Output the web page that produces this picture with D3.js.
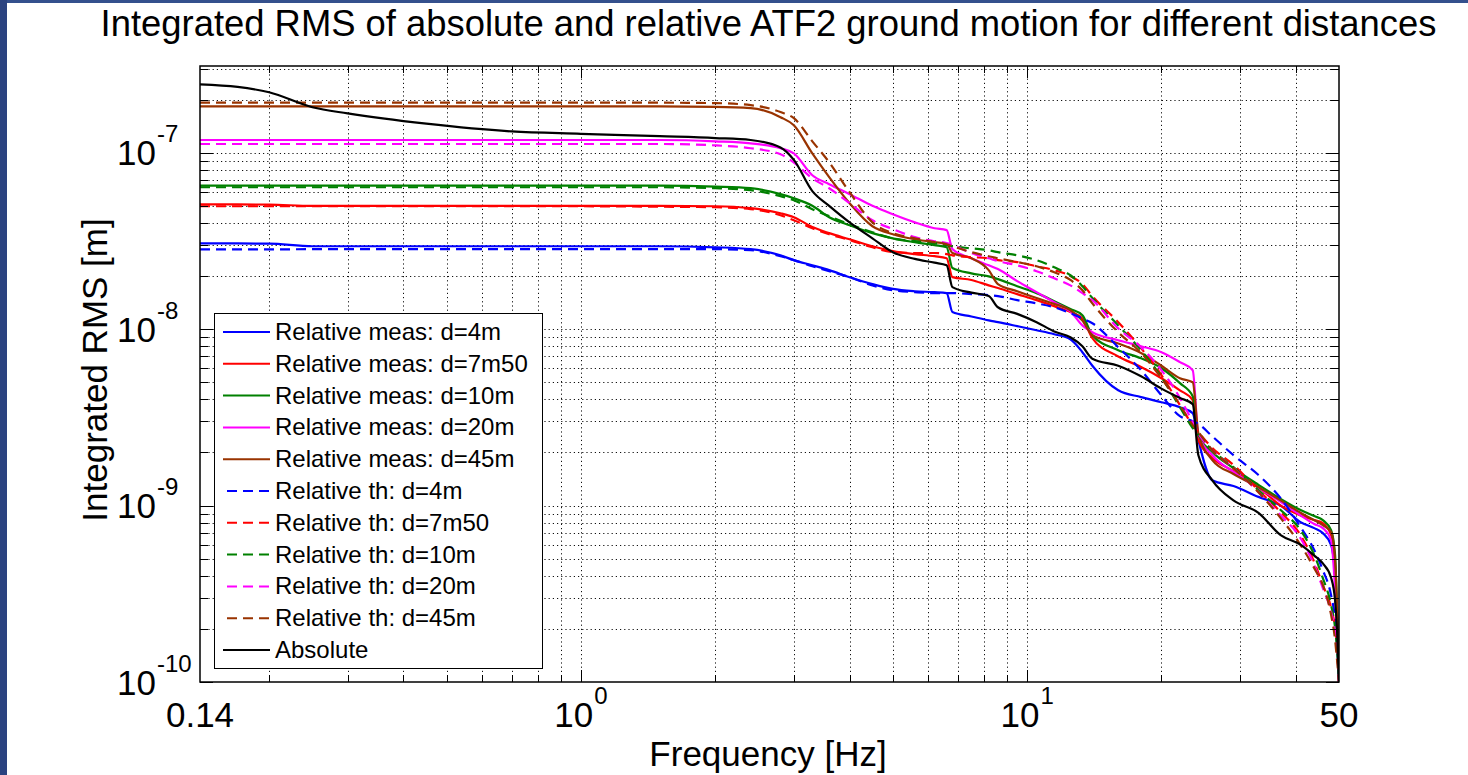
<!DOCTYPE html>
<html>
<head>
<meta charset="utf-8">
<script src="https://cdn.jsdelivr.net/npm/d3@7"></script>
<style>
  body { margin: 0; background: #fff; }
  svg { display: block; font-family: "Liberation Sans", Arial, sans-serif; }
</style>
</head>
<body>
<svg id="chart" width="1468" height="775"></svg>
<script>
// frequency grid [Hz] shared by every curve
const freqs = [0.14, 0.17, 0.2, 0.25, 0.3, 0.45, 0.7, 1.0, 1.5, 2.0, 2.4, 2.8,
  3.0, 3.3, 3.6, 4.0, 4.5, 5.0, 5.6, 6.2, 6.6, 6.8,
  7.5, 8.2, 8.6, 9.5, 10.5, 11.5, 12.5, 13.3, 14, 16,
  18, 20, 22, 23.5, 24.2, 26, 29, 33, 37, 41,
  44, 46, 48, 49, 49.5, 50]

// integrated RMS [m], measured relative motion
const measD4 = [3.06e-8, 3.06e-8, 3.05e-8, 2.95e-8, 2.95e-8, 2.95e-8, 2.95e-8, 2.95e-8, 2.95e-8, 2.91e-8, 2.84e-8, 2.62e-8,
  2.46e-8, 2.30e-8, 2.16e-8, 1.97e-8, 1.80e-8, 1.69e-8, 1.64e-8, 1.62e-8, 1.60e-8, 1.25e-8,
  1.18e-8, 1.12e-8, 1.095e-8, 1.04e-8, 9.86e-9, 9.36e-9, 8.76e-9, 7.4e-9, 6.2e-9, 4.5e-9,
  4.12e-9, 3.85e-9, 3.61e-9, 3.34e-9, 2.35e-9, 1.39e-9, 1.29e-9, 1.12e-9, 1.0e-9, 8.06e-10,
  7.45e-10, 6.98e-10, 5.97e-10, 4.04e-10, 2.25e-10, 1.0e-10]
const measD7 = [5.09e-8, 5.09e-8, 5.08e-8, 4.99e-8, 4.99e-8, 4.99e-8, 4.99e-8, 4.99e-8, 4.99e-8, 4.97e-8, 4.85e-8, 4.54e-8,
  4.31e-8, 3.79e-8, 3.5e-8, 3.23e-8, 2.95e-8, 2.77e-8, 2.66e-8, 2.59e-8, 2.52e-8, 1.97e-8,
  1.9e-8, 1.77e-8, 1.71e-8, 1.58e-8, 1.46e-8, 1.35e-8, 1.25e-8, 1.15e-8, 8.9e-9, 7.0e-9,
  6.1e-9, 5.27e-9, 4.5e-9, 3.96e-9, 2.35e-9, 1.86e-9, 1.57e-9, 1.27e-9, 1.0e-9, 8.8e-10,
  8.27e-10, 7.96e-10, 6.8e-10, 4.48e-10, 2.25e-10, 1.0e-10]
const measD10 = [6.5e-8, 6.5e-8, 6.5e-8, 6.5e-8, 6.5e-8, 6.5e-8, 6.5e-8, 6.5e-8, 6.5e-8, 6.42e-8, 6.29e-8, 5.82e-8,
  5.52e-8, 5.0e-8, 4.31e-8, 3.88e-8, 3.5e-8, 3.27e-8, 3.11e-8, 2.99e-8, 2.91e-8, 2.22e-8,
  2.07e-8, 1.99e-8, 1.92e-8, 1.75e-8, 1.6e-8, 1.44e-8, 1.3e-8, 1.2e-8, 9.24e-9, 7.6e-9,
  6.83e-9, 6.0e-9, 4.94e-9, 4.17e-9, 2.51e-9, 2.01e-9, 1.63e-9, 1.31e-9, 1.09e-9, 9.43e-10,
  8.72e-10, 8.27e-10, 7.25e-10, 5.25e-10, 2.56e-10, 1.0e-10]
const measD20 = [1.18e-7, 1.18e-7, 1.18e-7, 1.18e-7, 1.18e-7, 1.18e-7, 1.18e-7, 1.18e-7, 1.18e-7, 1.16e-7, 1.13e-7, 1.06e-7,
  9.9e-8, 7.45e-8, 6.63e-8, 5.82e-8, 5.0e-8, 4.48e-8, 4.03e-8, 3.73e-8, 3.64e-8, 2.84e-8,
  2.52e-8, 2.3e-8, 2.19e-8, 1.87e-8, 1.62e-8, 1.42e-8, 1.26e-8, 1.05e-8, 9.6e-9, 8.65e-9,
  8.0e-9, 7.4e-9, 6.5e-9, 5.85e-9, 2.51e-9, 1.93e-9, 1.55e-9, 1.26e-9, 1.05e-9, 8.8e-10,
  7.86e-10, 7.45e-10, 6.37e-10, 3.32e-10, 1.97e-10, 1.0e-10]
const measD45 = [1.83e-7, 1.83e-7, 1.83e-7, 1.83e-7, 1.83e-7, 1.83e-7, 1.83e-7, 1.83e-7, 1.83e-7, 1.82e-7, 1.79e-7, 1.59e-7,
  1.43e-7, 9.9e-8, 7.27e-8, 5.17e-8, 3.83e-8, 3.45e-8, 3.23e-8, 3.11e-8, 3.05e-8, 2.7e-8,
  2.52e-8, 2.16e-8, 1.8e-8, 1.64e-8, 1.5e-8, 1.39e-8, 1.28e-8, 1.12e-8, 9.24e-9, 8.3e-9,
  7.33e-9, 6.2e-9, 5.27e-9, 5.0e-9, 2.57e-9, 1.81e-9, 1.51e-9, 1.27e-9, 1.07e-9, 9.1e-10,
  8.27e-10, 7.75e-10, 7.07e-10, 4.9e-10, 2.56e-10, 1.0e-10]

// integrated RMS [m], theoretical relative motion
const thD4 = [2.83e-8, 2.83e-8, 2.83e-8, 2.84e-8, 2.84e-8, 2.84e-8, 2.84e-8, 2.84e-8, 2.84e-8, 2.84e-8, 2.80e-8, 2.59e-8,
  2.46e-8, 2.27e-8, 2.13e-8, 1.97e-8, 1.77e-8, 1.66e-8, 1.62e-8, 1.60e-8, 1.60e-8, 1.60e-8,
  1.58e-8, 1.56e-8, 1.54e-8, 1.46e-8, 1.40e-8, 1.33e-8, 1.23e-8, 1.15e-8, 1.08e-8, 7.9e-9,
  5.85e-9, 4.22e-9, 3.21e-9, 3.01e-9, 2.9e-9, 2.47e-9, 1.93e-9, 1.49e-9, 1.10e-9, 7.55e-10,
  5.6e-10, 4.3e-10, 3.1e-10, 2.25e-10, 1.62e-10, 1.0e-10]
const thD7 = [4.97e-8, 4.97e-8, 4.97e-8, 4.97e-8, 4.97e-8, 4.97e-8, 4.97e-8, 4.97e-8, 4.94e-8, 4.91e-8, 4.79e-8, 4.42e-8,
  4.14e-8, 3.73e-8, 3.45e-8, 3.2e-8, 2.91e-8, 2.73e-8, 2.7e-8, 2.7e-8, 2.66e-8, 2.62e-8,
  2.56e-8, 2.52e-8, 2.46e-8, 2.4e-8, 2.27e-8, 2.16e-8, 2.0e-8, 1.8e-8, 1.54e-8, 1.095e-8,
  7.8e-9, 5.49e-9, 3.71e-9, 2.86e-9, 2.61e-9, 2.12e-9, 1.70e-9, 1.22e-9, 9.18e-10, 6.8e-10,
  4.78e-10, 3.54e-10, 2.63e-10, 2.02e-10, 1.56e-10, 1.0e-10]
const thD10 = [6.37e-8, 6.37e-8, 6.37e-8, 6.37e-8, 6.37e-8, 6.37e-8, 6.37e-8, 6.37e-8, 6.37e-8, 6.29e-8, 6.13e-8, 5.67e-8,
  5.38e-8, 4.78e-8, 4.37e-8, 3.93e-8, 3.54e-8, 3.27e-8, 3.15e-8, 3.07e-8, 2.99e-8, 2.95e-8,
  2.87e-8, 2.8e-8, 2.73e-8, 2.62e-8, 2.46e-8, 2.24e-8, 2.02e-8, 1.75e-8, 1.5e-8, 1.05e-8,
  7.6e-9, 5.34e-9, 3.61e-9, 2.75e-9, 2.51e-9, 2.06e-9, 1.65e-9, 1.22e-9, 9.43e-10, 7.25e-10,
  5.25e-10, 3.88e-10, 2.73e-10, 2.02e-10, 1.52e-10, 1.0e-10]
const thD20 = [1.12e-7, 1.12e-7, 1.12e-7, 1.12e-7, 1.12e-7, 1.12e-7, 1.12e-7, 1.12e-7, 1.12e-7, 1.10e-7, 1.06e-7, 9.8e-8,
  8.8e-8, 7.16e-8, 6.29e-8, 5.17e-8, 4.14e-8, 3.69e-8, 3.32e-8, 3.15e-8, 3.07e-8, 2.99e-8,
  2.7e-8, 2.52e-8, 2.43e-8, 2.3e-8, 2.13e-8, 1.94e-8, 1.77e-8, 1.6e-8, 1.46e-8, 1.01e-8,
  7.9e-9, 5.85e-9, 4.07e-9, 2.97e-9, 2.57e-9, 2.06e-9, 1.63e-9, 1.19e-9, 8.8e-10, 6.53e-10,
  4.6e-10, 3.4e-10, 2.49e-10, 1.92e-10, 1.48e-10, 1.0e-10]
const thD45 = [1.92e-7, 1.92e-7, 1.92e-7, 1.92e-7, 1.92e-7, 1.92e-7, 1.92e-7, 1.92e-7, 1.92e-7, 1.91e-7, 1.86e-7, 1.7e-7,
  1.57e-7, 1.16e-7, 8.83e-8, 5.97e-8, 4.03e-8, 3.5e-8, 3.27e-8, 3.11e-8, 3.03e-8, 2.95e-8,
  2.73e-8, 2.59e-8, 2.52e-8, 2.4e-8, 2.27e-8, 2.1e-8, 1.9e-8, 1.66e-8, 1.4e-8, 9.6e-9,
  7.33e-9, 5.27e-9, 3.71e-9, 2.86e-9, 2.61e-9, 2.06e-9, 1.63e-9, 1.19e-9, 8.5e-10, 5.97e-10,
  4.42e-10, 3.54e-10, 2.4e-10, 1.73e-10, 1.33e-10, 1.0e-10]

// absolute ground motion
const absolute = [2.44e-7, 2.36e-7, 2.2e-7, 1.81e-7, 1.67e-7, 1.46e-7, 1.32e-7, 1.28e-7, 1.24e-7, 1.21e-7, 1.18e-7, 1.07e-7,
  9.1e-8, 6.06e-8, 5.0e-8, 4.03e-8, 3.27e-8, 2.73e-8, 2.5e-8, 2.38e-8, 2.3e-8, 1.73e-8,
  1.61e-8, 1.54e-8, 1.33e-8, 1.22e-8, 1.095e-8, 9.7e-9, 9.0e-9, 8.0e-9, 6.8e-9, 6.2e-9,
  5.4e-9, 4.6e-9, 4.07e-9, 3.76e-9, 1.93e-9, 1.39e-9, 1.07e-9, 9.1e-10, 6.8e-10, 6.0e-10,
  5.2e-10, 4.7e-10, 3.9e-10, 2.9e-10, 1.97e-10, 1.0e-10]

const seriesLabels = ["Relative meas: d=4m", "Relative meas: d=7m50", "Relative meas: d=10m",
  "Relative meas: d=20m", "Relative meas: d=45m", "Relative th: d=4m", "Relative th: d=7m50",
  "Relative th: d=10m", "Relative th: d=20m", "Relative th: d=45m", "Absolute"]
const seriesValues = [measD4, measD7, measD10, measD20, measD45,
  thD4, thD7, thD10, thD20, thD45, absolute]
const seriesColors = ["#0000ff", "#ff0000", "#008000", "#ff00ff", "#993300",
  "#0000ff", "#ff0000", "#008000", "#ff00ff", "#993300", "#000000"]
const seriesDashed = [false, false, false, false, false, true, true, true, true, true, false]

const xTickLabels = [[0.14, "0.14", null], [1, "10", "0"], [10, "10", "1"], [50, "50", null]]
const yTickLabels = [[1e-10, "-10"], [1e-9, "-9"], [1e-8, "-8"], [1e-7, "-7"]]

const svg = d3.select('#chart')
const plot = {left: 200, right: 1339, top: 66, bottom: 682}

// slide frame
svg.append('rect').attr('x', 0).attr('y', 0).attr('width', 1468).attr('height', 3).attr('fill', '#34508d')
svg.append('rect').attr('x', 0).attr('y', 0).attr('width', 7).attr('height', 775).attr('fill', '#2b4380')

const x = d3.scaleLog().domain([0.14, 50]).range([plot.left, plot.right])
const y = d3.scaleLog().domain([1e-10, 3.1e-7]).range([plot.bottom, plot.top])

// all grid positions (1..9 per decade)
const xGrid = []
for (const dec of [0.1, 1, 10]) for (let m = 1; m <= 9; m++) {
  const v = +(m * dec).toPrecision(3)
  if (v > 0.14 && v < 50) xGrid.push({v, major: m === 1})
}
const yGrid = []
for (const dec of [1e-10, 1e-9, 1e-8, 1e-7]) for (let m = 1; m <= 9; m++) {
  const v = m * dec
  if (v <= 3.1e-7) yGrid.push({v, major: m === 1})
}

const grid = svg.append('g').attr('stroke', '#111').attr('stroke-width', 1).attr('stroke-dasharray', '1.2,3')
grid.selectAll('.gx').data(xGrid).join('line')
  .attr('x1', d => Math.round(x(d.v)) + 0.5).attr('x2', d => Math.round(x(d.v)) + 0.5)
  .attr('y1', plot.top).attr('y2', plot.bottom)
grid.selectAll('.gy').data(yGrid.filter(d => d.v > 1e-10)).join('line')
  .attr('y1', d => Math.round(y(d.v)) + 0.5).attr('y2', d => Math.round(y(d.v)) + 0.5)
  .attr('x1', plot.left).attr('x2', plot.right)

// curves
svg.append('clipPath').attr('id', 'clip').append('rect')
  .attr('x', plot.left).attr('y', plot.top)
  .attr('width', plot.right - plot.left).attr('height', plot.bottom - plot.top + 1)

const line = d3.line().x(d => x(d[0])).y(d => y(d[1])).curve(d3.curveMonotoneX)
svg.append('g').attr('clip-path', 'url(#clip)')
  .selectAll('path').data(seriesValues).join('path')
    .attr('d', vals => line(vals.map((v, i) => [freqs[i], v])))
    .attr('fill', 'none')
    .attr('stroke', (d, i) => seriesColors[i])
    .attr('stroke-width', 2.2)
    .attr('stroke-linejoin', 'round')
    .attr('stroke-dasharray', (d, i) => seriesDashed[i] ? '10,6' : null)

// axes box and inward ticks
const ticks = svg.append('g').attr('stroke', '#000').attr('stroke-width', 1)
xGrid.forEach(d => {
  const px = Math.round(x(d.v)) + 0.5, len = d.major ? 12 : 7
  ticks.append('line').attr('x1', px).attr('x2', px).attr('y1', plot.bottom).attr('y2', plot.bottom - len)
  ticks.append('line').attr('x1', px).attr('x2', px).attr('y1', plot.top).attr('y2', plot.top + len)
})
yGrid.forEach(d => {
  const py = Math.round(y(d.v)) + 0.5, len = d.major ? 13 : 8
  ticks.append('line').attr('y1', py).attr('y2', py).attr('x1', plot.left).attr('x2', plot.left + len)
  ticks.append('line').attr('y1', py).attr('y2', py).attr('x1', plot.right).attr('x2', plot.right - len)
})
svg.append('rect')
  .attr('x', plot.left).attr('y', plot.top)
  .attr('width', plot.right - plot.left).attr('height', plot.bottom - plot.top)
  .attr('fill', 'none').attr('stroke', '#000').attr('stroke-width', 1.5)

// tick labels
yTickLabels.forEach(([v, ex]) => {
  const t = svg.append('text').attr('x', 117).attr('y', y(v) + 12.5)
    .attr('font-size', 35).attr('fill', '#000').text('10')
  t.append('tspan').attr('dx', 1).attr('dy', -23).attr('font-size', 24).text(ex)
})
xTickLabels.forEach(([v, base, ex]) => {
  const t = svg.append('text').attr('x', x(v)).attr('y', 727)
    .attr('text-anchor', 'middle').attr('font-size', 35).attr('fill', '#000').text(base)
  if (ex) t.append('tspan').attr('dx', 1).attr('dy', -23).attr('font-size', 24).text(ex)
})

// titles
svg.append('text').attr('x', 768.5).attr('y', 36).attr('text-anchor', 'middle')
  .attr('font-size', 36.4).text('Integrated RMS of absolute and relative ATF2 ground motion for different distances')
svg.append('text').attr('x', 768).attr('y', 766).attr('text-anchor', 'middle')
  .attr('font-size', 35).text('Frequency [Hz]')
svg.append('text').attr('transform', 'translate(107,370) rotate(-90)').attr('text-anchor', 'middle')
  .attr('font-size', 35).text('Integrated RMS [m]')

// legend
const legend = svg.append('g')
legend.append('rect').attr('x', 214.5).attr('y', 313.5).attr('width', 328).attr('height', 355)
  .attr('fill', '#fff').attr('stroke', '#000').attr('stroke-width', 1)
const rowY = i => 332 + i * 31.8
seriesLabels.forEach((lab, i) => {
  legend.append('line')
    .attr('x1', seriesDashed[i] ? 227 : 223).attr('x2', 270)
    .attr('y1', rowY(i)).attr('y2', rowY(i))
    .attr('stroke', seriesColors[i]).attr('stroke-width', 2)
    .attr('stroke-dasharray', seriesDashed[i] ? '10,6' : null)
  legend.append('text').attr('x', 275).attr('y', rowY(i) + 8)
    .attr('font-size', 24).text(lab)
})
</script>
</body>
</html>
